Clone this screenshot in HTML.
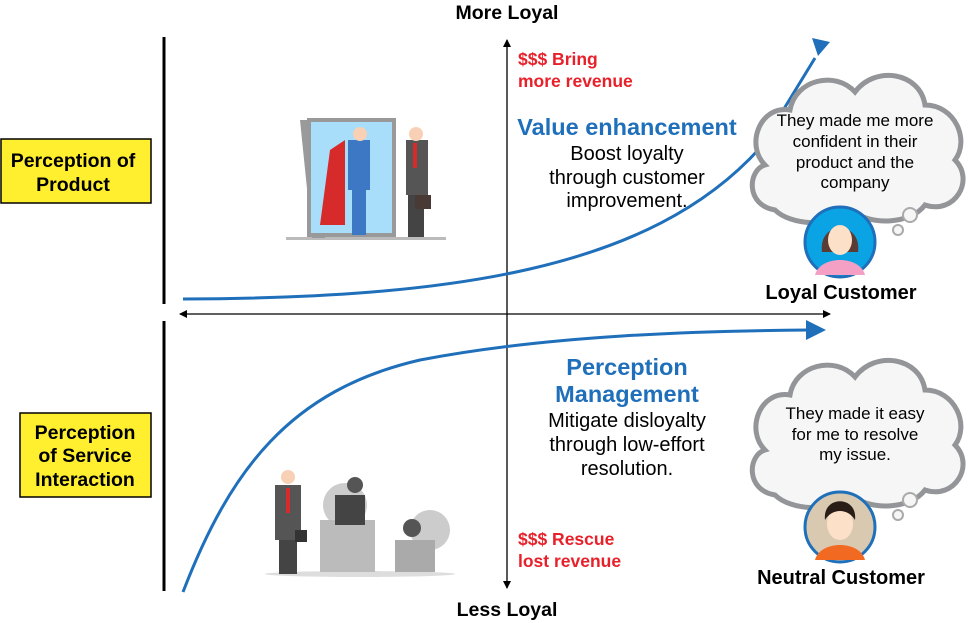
<!DOCTYPE html>
<html><head><style>
body{margin:0;background:#fff;}
svg{display:block;font-family:"Liberation Sans",Arial,sans-serif;}
</style></head><body>
<svg width="968" height="623" viewBox="0 0 968 623" xmlns="http://www.w3.org/2000/svg">
<defs>
<marker id="ah" markerWidth="8" markerHeight="8" refX="7" refY="4" orient="auto" markerUnits="userSpaceOnUse"><path d="M0,0 L8,4 L0,8 z" fill="#000"/></marker>
<marker id="ahs" markerWidth="8" markerHeight="8" refX="1" refY="4" orient="auto" markerUnits="userSpaceOnUse"><path d="M8,0 L0,4 L8,8 z" fill="#000"/></marker>
</defs>
<line x1="507" y1="40" x2="507" y2="588" stroke="#000" stroke-width="1.3" marker-end="url(#ah)" marker-start="url(#ahs)"/>
<line x1="180" y1="314" x2="830" y2="314" stroke="#000" stroke-width="1.3" marker-end="url(#ah)" marker-start="url(#ahs)"/>
<line x1="164" y1="37" x2="164" y2="304" stroke="#000" stroke-width="3"/>
<line x1="164" y1="321" x2="164" y2="591" stroke="#000" stroke-width="3"/>
<text x="507" y="19" font-size="19.5" font-weight="bold" text-anchor="middle">More Loyal</text>
<text x="507" y="616" font-size="19.5" font-weight="bold" text-anchor="middle">Less Loyal</text>
<rect x="1" y="139" width="150" height="64" fill="#ffef2f" stroke="#000" stroke-width="1.5"/>
<text x="73" y="167" font-size="19.5" font-weight="bold" text-anchor="middle">Perception of</text>
<text x="73" y="191" font-size="19.5" font-weight="bold" text-anchor="middle">Product</text>
<rect x="20" y="413" width="131" height="84" fill="#ffef2f" stroke="#000" stroke-width="1.5"/>
<text x="85" y="439" font-size="19.5" font-weight="bold" text-anchor="middle">Perception</text>
<text x="85" y="462" font-size="19.5" font-weight="bold" text-anchor="middle">of Service</text>
<text x="85" y="486" font-size="19.5" font-weight="bold" text-anchor="middle">Interaction</text>
<path d="M183,299 C450,298 650,270 760,148 L815,58" fill="none" stroke="#1f6fba" stroke-width="3"/>
<path d="M812,38 L830,42 L818,56 z" fill="#1f6fba"/>
<path d="M183,592 C230,470 290,390 420,360 C550,335 700,331 808,330" fill="none" stroke="#1f6fba" stroke-width="3"/>
<path d="M806,320 L826,330 L806,340 z" fill="#1f6fba"/>
<text x="518" y="65" font-size="17.5" font-weight="bold" fill="#e8202a">$$$ Bring</text>
<text x="518" y="87" font-size="17.5" font-weight="bold" fill="#e8202a">more revenue</text>
<text x="627" y="135" font-size="23.5" font-weight="bold" fill="#1f6fba" text-anchor="middle">Value enhancement</text>
<text x="627" y="160" font-size="20" text-anchor="middle">Boost loyalty</text>
<text x="627" y="184" font-size="20" text-anchor="middle">through customer</text>
<text x="627" y="207" font-size="20" text-anchor="middle">improvement.</text>
<text x="627" y="375" font-size="23.5" font-weight="bold" fill="#1f6fba" text-anchor="middle">Perception</text>
<text x="627" y="402" font-size="23.5" font-weight="bold" fill="#1f6fba" text-anchor="middle">Management</text>
<text x="627" y="427" font-size="20" text-anchor="middle">Mitigate disloyalty</text>
<text x="627" y="451" font-size="20" text-anchor="middle">through low-effort</text>
<text x="627" y="475" font-size="20" text-anchor="middle">resolution.</text>
<text x="518" y="545" font-size="17.5" font-weight="bold" fill="#e8202a">$$$ Rescue</text>
<text x="518" y="567" font-size="17.5" font-weight="bold" fill="#e8202a">lost revenue</text>
<g>
<rect x="286" y="237" width="160" height="3" fill="#bbb"/>
<polygon points="300,120 325,120 325,238 312,238" fill="#9a9a9a"/>
<rect x="309" y="120" width="85" height="115" fill="#a9defa" stroke="#999" stroke-width="4"/>
<path d="M345,140 L330,150 L320,225 L345,225 z" fill="#d72a2a"/>
<rect x="348" y="140" width="22" height="50" fill="#3c78c3"/>
<rect x="352" y="190" width="14" height="45" fill="#3c78c3"/>
<circle cx="360" cy="134" r="7" fill="#f7d0b5"/>
<rect x="406" y="140" width="22" height="55" fill="#555"/>
<rect x="408" y="195" width="16" height="42" fill="#444"/>
<circle cx="416" cy="134" r="7" fill="#f7d0b5"/>
<rect x="413" y="143" width="4" height="25" fill="#d72a2a"/>
<rect x="415" y="195" width="16" height="14" fill="#4a3a35"/>
</g>
<g>
<ellipse cx="360" cy="574" rx="95" ry="3" fill="#ddd"/>
<rect x="275" y="485" width="26" height="55" fill="#555"/>
<rect x="279" y="540" width="18" height="34" fill="#444"/>
<circle cx="288" cy="477" r="7" fill="#f7d0b5"/>
<rect x="286" y="488" width="4" height="25" fill="#d72a2a"/>
<rect x="295" y="530" width="12" height="12" fill="#333"/>
<circle cx="345" cy="505" r="22" fill="#ccc"/>
<circle cx="430" cy="530" r="20" fill="#ccc"/>
<rect x="320" y="520" width="55" height="52" fill="#bbb"/>
<rect x="335" y="495" width="30" height="30" fill="#444"/>
<circle cx="355" cy="485" r="8" fill="#555"/>
<rect x="395" y="540" width="40" height="32" fill="#aaa"/>
<circle cx="412" cy="528" r="9" fill="#555"/>
</g>
<g fill="#f6f6f6" stroke="#939598" stroke-width="5">
<path d="M775,210 C745,205 748,170 765,165 C745,145 760,105 790,110 C795,80 835,70 855,92 C875,65 920,72 925,105 C955,105 970,140 955,160 C975,180 955,215 925,205 C910,225 870,225 855,212 C830,228 790,225 775,210 z"/>
<path d="M775,495 C745,490 748,455 765,450 C745,430 760,390 790,395 C795,365 835,355 855,377 C875,350 920,357 925,390 C955,390 970,425 955,445 C975,465 955,500 925,490 C910,510 870,510 855,497 C830,513 790,510 775,495 z"/>
</g>
<g fill="#f6f6f6" stroke="#aaa" stroke-width="2">
<circle cx="910" cy="215" r="7"/><circle cx="898" cy="230" r="5"/>
<circle cx="910" cy="500" r="7"/><circle cx="898" cy="515" r="5"/>
</g>
<text x="855" y="126" font-size="17" text-anchor="middle">They made me more</text>
<text x="855" y="147" font-size="17" text-anchor="middle">confident in their</text>
<text x="855" y="168" font-size="17" text-anchor="middle">product and the</text>
<text x="855" y="188" font-size="17" text-anchor="middle">company</text>
<text x="855" y="419" font-size="17" text-anchor="middle">They made it easy</text>
<text x="855" y="440" font-size="17" text-anchor="middle">for me to resolve</text>
<text x="855" y="460" font-size="17" text-anchor="middle">my issue.</text>
<circle cx="840" cy="242" r="35" fill="#0aa3e3" stroke="#1f6fba" stroke-width="3"/>
<path d="M815,275 C820,255 860,255 865,275 z" fill="#f4a0c5"/>
<path d="M822,252 C818,220 862,220 858,252 z" fill="#5a3c34"/>
<ellipse cx="840" cy="240" rx="12" ry="15" fill="#fde0c8"/>
<circle cx="840" cy="527" r="35" fill="#d9c9b0" stroke="#1f6fba" stroke-width="3"/>
<path d="M815,560 C820,540 860,540 865,560 z" fill="#f26a22"/>
<ellipse cx="840" cy="524" rx="13" ry="16" fill="#fde0c8"/>
<path d="M825,520 C822,495 858,495 855,520 C848,508 832,508 825,520 z" fill="#2a1d18"/>
<text x="841" y="299" font-size="20" font-weight="bold" text-anchor="middle">Loyal Customer</text>
<text x="841" y="584" font-size="20" font-weight="bold" text-anchor="middle">Neutral Customer</text>
</svg>
</body></html>
